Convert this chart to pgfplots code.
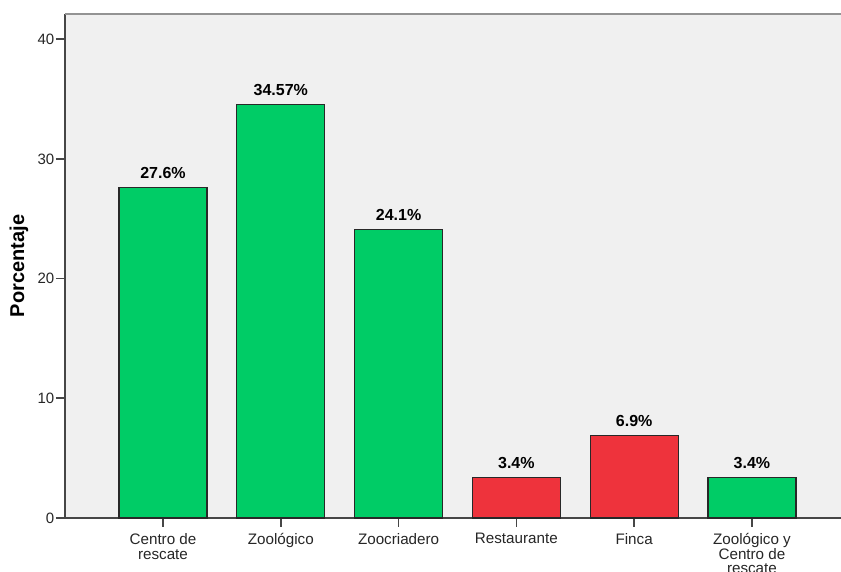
\documentclass[border=0pt]{standalone}
\usepackage{pgfplots}
\pgfplotsset{compat=1.18}
\usepackage{fontspec}
\setmainfont{Liberation Sans}
\definecolor{bggray}{RGB}{240,240,240}
\definecolor{bargreen}{RGB}{0,204,102}
\definecolor{barred}{RGB}{238,51,60}
\definecolor{edgec}{RGB}{40,40,40}
\definecolor{axc}{RGB}{70,70,70}
\begin{document}
\begin{tikzpicture}
\begin{axis}[
  name=ax,
  width=776pt, height=504pt, scale only axis,
  xmin=-0.832, xmax=5.756, ymin=0, ymax=42.1,
  axis lines*=left,
  axis line style={axc, line width=1.6pt, -},
  axis background/.style={fill=bggray},
  xtick={0,1,2,3,4,5},
  xticklabels={{Centro de\\rescate},{Zoológico},{Zoocriadero},{Restaurante},{Finca},{Zoológico y\\Centro de\\rescate}},
  xticklabel style={align=center, font=\fontsize{15.2}{14.8}\selectfont, inner sep=3pt, yshift=-3pt, text=black!85},
  ytick={0,10,20,30,40},
  yticklabel style={font=\fontsize{15}{16}\selectfont, text=black!85, inner sep=1.5pt},
  /pgf/number format/assume math mode=true,
  tick align=outside, major tick length=9pt,
  tick style={axc, line width=1.6pt},
  ylabel={Porcentaje},
  every axis y label/.style={at={(rel axis cs:0,0.5)}, rotate=90, anchor=center, yshift=46pt, font=\bfseries\fontsize{20}{21}\selectfont},
  ybar, bar width=0.747, bar shift=0pt,
  nodes near coords,
  point meta=explicit symbolic,
  every node near coord/.append style={font=\bfseries\fontsize{16}{17}\selectfont, black, yshift=5pt},
  clip=false,
]
\addplot[fill=bargreen, draw=edgec, line width=1.2pt] table[meta=lab] {
x y lab
0 27.6 27.6\%
1 34.57 34.57\%
2 24.1 24.1\%
5 3.4 3.4\%
};
\addplot[fill=barred, draw=edgec, line width=1.2pt] table[meta=lab] {
x y lab
3 3.4 3.4\%
4 6.9 6.9\%
};
\draw[gray!85, line width=2pt] (rel axis cs:0,1) -- (rel axis cs:1,1);
\end{axis}
\pgfresetboundingbox
\path[use as bounding box] ([xshift=-65pt,yshift=-54pt]ax.south west) rectangle ([yshift=14pt]ax.north east);
\end{tikzpicture}
\end{document}
